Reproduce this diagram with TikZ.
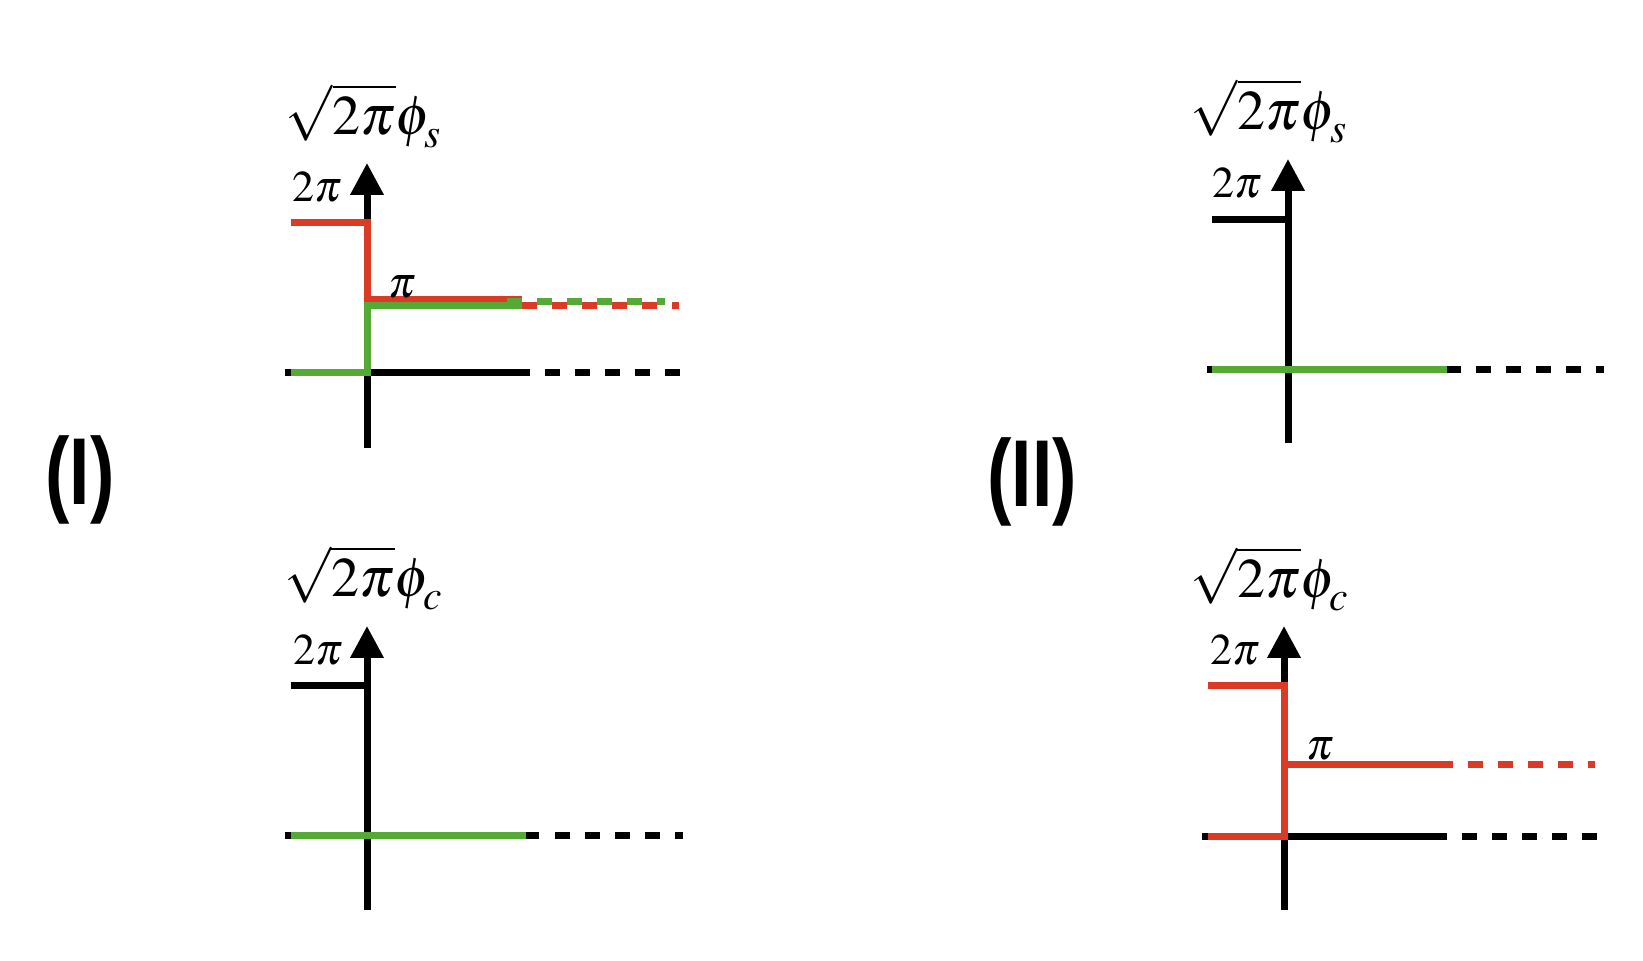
\documentclass[tikz,border=0pt]{standalone}
\usepackage{mathptmx}
\usepackage[no-math]{fontspec}
\newfontfamily\labfont{Liberation Sans}
\usetikzlibrary{arrows.meta}
\definecolor{myred}{RGB}{219,59,38}
\definecolor{mygreen}{RGB}{84,170,52}
\newcommand{\lowsub}[1]{_{\raisebox{-2.5pt}{$\scriptstyle #1$}}}
\tikzset{
  ax/.style={line width=3.5pt, black},
  ln/.style={line width=3.5pt},
  dsh/.style={line width=3.5pt, dash pattern=on 7.5pt off 7.5pt},
  arr/.style={-{Triangle[length=16pt,width=16pt]}},
  biglab/.style={inner sep=0pt, font=\fontsize{28}{30}\selectfont},
  ticklab/.style={inner sep=0pt, font=\fontsize{22}{24}\selectfont},
  panlab/.style={inner sep=0pt, anchor=base, font=\labfont\bfseries\fontsize{47.5}{50}\selectfont},
}
\begin{document}
\begin{tikzpicture}[x=0.5pt,y=-0.5pt]
\useasboundingbox (0,0) rectangle (1643,961);

% ---------- Panel I, top ----------
\draw[ax,arr] (367,448) -- (367,163);
\draw[ax] (285,373) -- (530,373);
\draw[dsh] (545,373) -- (680,373);
\draw[ln,myred] (291,223) -- (367,223) -- (367,300) -- (522,300);
\draw[ln,mygreen] (291,373) -- (367,373) -- (367,306) -- (522,306);
\draw[dsh,mygreen] (507,302) -- (665,302);
\draw[dsh,myred] (522,306) -- (679,306);
\node[biglab] (l1) at (364,116) {$\sqrt{2\pi}\phi\lowsub{s}$};
\node[ticklab] (t1) at (317,187) {$2\pi$};
\node[ticklab] (p1) at (402,287) {$\pi$};

% ---------- Panel I, bottom ----------
\draw[ax,arr] (367,910) -- (367,626);
\draw[ax] (285,835) -- (539,835);
\draw[dsh] (555,835) -- (683,835);
\draw[ax] (291,686) -- (367,686);
\draw[ln,mygreen] (291,835) -- (526,835);
\node[biglab] (l2) at (364,578) {$\sqrt{2\pi}\phi\lowsub{c}$};
\node[ticklab] (t2) at (318,650) {$2\pi$};

% ---------- Panel II, top ----------
\draw[ax,arr] (1288,443) -- (1288,159);
\draw[ax] (1207,370) -- (1461,370);
\draw[dsh] (1476,370) -- (1604,370);
\draw[ax] (1212,220) -- (1288,220);
\draw[ln,mygreen] (1212,370) -- (1447,370);
\node[biglab] (l3) at (1269,111) {$\sqrt{2\pi}\phi\lowsub{s}$};
\node[ticklab] (t3) at (1237,183) {$2\pi$};

% ---------- Panel II, bottom ----------
\draw[ax,arr] (1284,910) -- (1284,626);
\draw[ax] (1202,836) -- (1447,836);
\draw[dsh] (1462,836) -- (1597,836);
\draw[ln,myred] (1208,836) -- (1284,836) -- (1284,686) -- (1208,686);
\draw[ln,myred] (1284,764) -- (1453,764);
\draw[dsh,myred] (1468,764) -- (1595,764);
\node[biglab] (l4) at (1270,579) {$\sqrt{2\pi}\phi\lowsub{c}$};
\node[ticklab] (t4) at (1235,650) {$2\pi$};
\node[ticklab] (p4) at (1320,749) {$\pi$};

% ---------- Panel labels ----------
\node[panlab] (I) at (80,505) {\scalebox{0.77}[1]{(I)}};
\node[panlab] (II) at (1032,507) {\scalebox{0.77}[1]{(II)}};
\end{tikzpicture}
\end{document}
